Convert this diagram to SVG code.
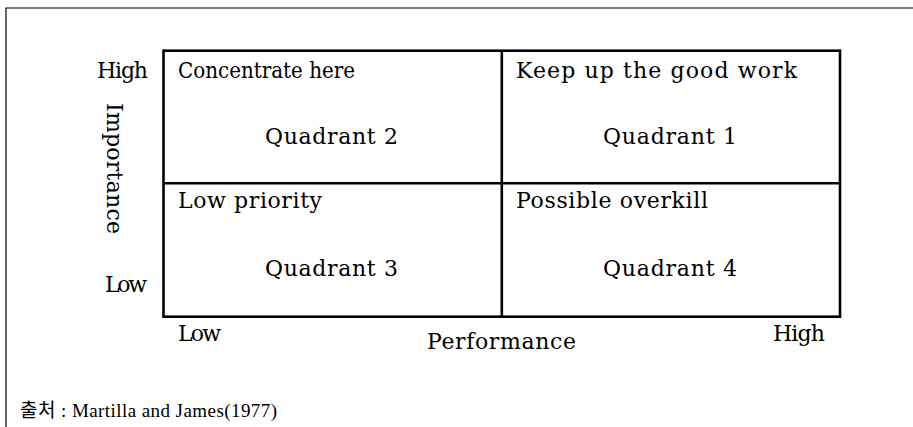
<svg xmlns="http://www.w3.org/2000/svg" width="913" height="427" viewBox="0 0 913 427">
<style>
.t{font-family:"DejaVu Serif","Liberation Serif",serif;font-size:22px;fill:#000}
.c{font-family:"Liberation Serif","Noto Sans CJK KR",serif;font-size:19px;fill:#000}
.ln{stroke:#000;stroke-width:2.6;fill:none}
.fr{stroke:#000;stroke-width:1.2;fill:none}
</style>
<rect width="913" height="427" fill="#fff"/>
<g id="frame"><path class="fr" d="M6,427 V8 H913"/></g>
<g id="connectors">
<rect class="ln" x="163.5" y="50.7" width="676.5" height="266"/>
<line class="ln" x1="501.8" y1="50.7" x2="501.8" y2="316.7"/>
<line class="ln" x1="163.5" y1="183.3" x2="840" y2="183.3"/>
</g>
<g id="q2"><text class="t" x="178" y="78" textLength="177" lengthAdjust="spacingAndGlyphs">Concentrate here</text><text class="t" x="265" y="144" textLength="133">Quadrant 2</text></g>
<g id="q1"><text class="t" x="516" y="78" textLength="281">Keep up the good work</text><text class="t" x="603" y="144" textLength="134">Quadrant 1</text></g>
<g id="q3"><text class="t" x="178" y="208" textLength="144">Low priority</text><text class="t" x="265" y="276" textLength="133">Quadrant 3</text></g>
<g id="q4"><text class="t" x="516" y="208" textLength="192">Possible overkill</text><text class="t" x="603" y="276" textLength="134">Quadrant 4</text></g>
<g id="yaxis">
<text class="t" x="97" y="78" textLength="51">High</text>
<text class="t" x="105" y="292" textLength="42">Low</text>
<text class="t" transform="translate(107,103) rotate(90)" x="0" y="0" textLength="131">Importance</text>
</g>
<g id="xaxis">
<text class="t" x="178" y="341" textLength="43">Low</text>
<text class="t" x="427" y="349" textLength="149">Performance</text>
<text class="t" x="773" y="341" textLength="52">High</text>
</g>
<g id="source"><text class="c" x="20" y="417" textLength="257">출처 : Martilla and James(1977)</text></g>
</svg>
